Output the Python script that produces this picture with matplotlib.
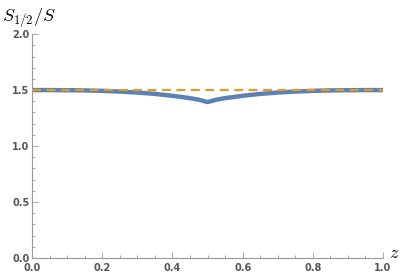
import matplotlib.pyplot as plt
import numpy as np
from matplotlib.ticker import MultipleLocator

# Данные (кривая симметрична относительно z = 0.5)
z_half = [0.0, 0.05, 0.1, 0.15, 0.2, 0.25, 0.3, 0.35, 0.4, 0.45, 0.475, 0.5]
s_half = [1.500, 1.500, 1.499, 1.497, 1.493, 1.487, 1.478, 1.466, 1.449, 1.428, 1.414, 1.393]
ref_level = 1.5

z = np.concatenate([z_half, 1.0 - np.array(z_half[::-1][1:])])
s = np.concatenate([s_half, s_half[::-1][1:]])

gray = '#999999'
label_gray = '#555555'

fig = plt.figure(figsize=(4.07, 2.73), dpi=100)
ax = fig.add_axes([0.079, 0.055, 0.862, 0.82])

ax.plot(z, s, color='#5E81B5', lw=3.2, solid_capstyle='butt', zorder=2)
ax.plot([0, 1], [ref_level, ref_level], color='#E19C24', lw=1.6,
        dashes=(4, 2.5), zorder=3)

ax.set_xlim(0, 1)
ax.set_ylim(0, 2)

# Оформление осей в стиле Mathematica
for side in ['top', 'right']:
    ax.spines[side].set_visible(False)
for side in ['left', 'bottom']:
    ax.spines[side].set_color(gray)
    ax.spines[side].set_linewidth(0.8)

ax.xaxis.set_major_locator(MultipleLocator(0.2))
ax.xaxis.set_minor_locator(MultipleLocator(0.05))
ax.yaxis.set_major_locator(MultipleLocator(0.5))
ax.yaxis.set_minor_locator(MultipleLocator(0.1))
ax.tick_params(which='both', direction='in', color=gray, width=0.6)
ax.tick_params(which='major', length=4, labelsize=7, labelcolor=label_gray)
ax.tick_params(axis='x', which='major', pad=3.5)
ax.tick_params(axis='y', which='major', pad=2)
ax.tick_params(which='minor', length=2)
ax.xaxis.set_major_formatter(plt.FuncFormatter(lambda v, p: f'{v:.1f}'))
ax.yaxis.set_major_formatter(plt.FuncFormatter(lambda v, p: f'{v:.1f}'))
for lbl in ax.get_xticklabels() + ax.get_yticklabels():
    lbl.set_fontweight('bold')

fig.text(0.005, 0.935, r'$S_{1/2}/S$', fontsize=13, family='serif',
         math_fontfamily='cm', va='center', ha='left')
fig.text(0.955, 0.075, r'$z$', fontsize=13, math_fontfamily='cm',
         va='center', ha='left')

fig.savefig('out.png', dpi=100)
